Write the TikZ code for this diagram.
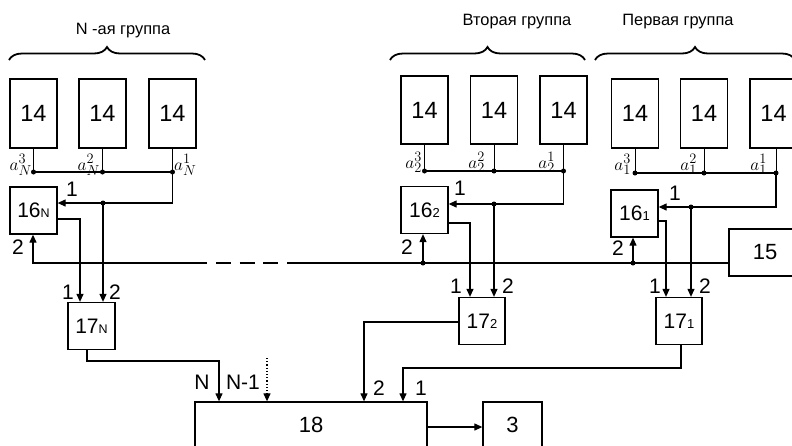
\documentclass[tikz,border=0pt]{standalone}
\usepackage{fontspec}
\setmainfont{Liberation Sans}
\usetikzlibrary{arrows.meta,decorations.pathreplacing}
\begin{document}
\begin{tikzpicture}[x=1pt,y=-1pt,
 box/.style={draw,line width=1.3pt,inner sep=0pt,minimum width=47pt,minimum height=47pt,font=\fontsize{21}{21}\selectfont},
 bigbox/.style={box,minimum height=69pt,font=\fontsize{23.5}{23.5}\selectfont},
 ln/.style={line width=1.2pt},
 thinln/.style={line width=1pt},
 arr/.style={ln,-{Triangle[length=8pt,width=7pt]}},
 dotn/.style={circle,fill,inner sep=0pt,minimum size=5pt},
 lbl/.style={font=\fontsize{21}{21}\selectfont,inner sep=0pt},
 alab/.style={inner sep=0pt,font=\fontsize{19}{19}\selectfont},
 ttl/.style={font=\fontsize{16.4}{16.4}\selectfont,inner sep=0pt},
 brc/.style={decorate,decoration={brace,amplitude=13pt},line width=1.8pt},
 subs/.style={}
]
\useasboundingbox (0,0) rectangle (792,445);
\clip (0,0) rectangle (792,445);

% titles and braces
\node[ttl] (tN) at (123,31) {N -ая группа};
\node[ttl] (t2) at (517,22) {Вторая группа};
\node[ttl] (t1) at (678,22) {Первая группа};
\draw[brc] (9,60) -- (205,60);
\draw[brc] (390,60) -- (585,60);
\draw[brc] (595,60) -- (795,60);

% boxes 14
\node[bigbox] (nN3) at (33.5,113.5) {14};
\node[bigbox] (nN2) at (102.5,113.5) {14};
\node[bigbox] (nN1) at (172.5,113.5) {14};
\node[bigbox,minimum height=68pt] (n23) at (424.5,110) {14};
\node[bigbox,minimum height=68pt] (n22) at (494,110) {14};
\node[bigbox,minimum height=68pt] (n21) at (563.5,110) {14};
\node[bigbox] (n13) at (635,113.5) {14};
\node[bigbox] (n12) at (704,113.5) {14};
\node[bigbox] (n11) at (773.5,113.5) {14};

% boxes 16, 17, 15, 18, 3
\node[box] (s16N) at (33.5,210.5) {16{\fontsize{12.5}{12.5}\selectfont N}};
\node[box] (s162) at (424.5,210) {16{\fontsize{13}{13}\selectfont 2}};
\node[box] (s161) at (634.5,213.5) {16{\fontsize{13}{13}\selectfont 1}};
\node[box] (s17N) at (91.5,326) {17{\fontsize{12.5}{12.5}\selectfont N}};
\node[box,minimum width=46pt] (s172) at (482,321) {17{\fontsize{13}{13}\selectfont 2}};
\node[box,minimum width=46pt] (s171) at (679,321) {17{\fontsize{13}{13}\selectfont 1}};
\node[box,minimum width=72pt,font=\fontsize{22}{22}\selectfont] (b15) at (765,252.5) {15};
\node[box,minimum width=232pt,minimum height=46pt,font=\fontsize{22}{22}\selectfont] (b18) at (311,425) {18};
\node[box,minimum width=59pt,minimum height=46pt,font=\fontsize{22}{22}\selectfont] (b3) at (512.5,425) {3};

% group N
\coordinate (busN) at (0,172);
\draw[thinln] (nN3.south) -- (nN3.south |- busN) coordinate (pN3);
\draw[thinln] (nN2.south) -- (nN2.south |- busN) coordinate (pN2);
\draw[thinln] (nN1.south) -- (nN1.south |- busN) coordinate (pN1);
\draw[ln] (pN3) -- (pN1);
\node[dotn] (dN3) at (pN3) {};
\node[dotn] (dN2) at (pN2) {};
\node[dotn] (dN1) at (pN1) {};
\coordinate (inN) at (0,203);
\draw[arr] (pN1) -- (pN1 |- inN) -- (s16N.east |- inN);
\coordinate (jN) at (103,203);
\node[dotn] (djN) at (jN) {};
\draw[arr] (jN) -- (jN |- s17N.north);
\coordinate (oN) at (80,219);
\draw[arr] (s16N.east |- oN) -- (oN) -- (oN |- s17N.north);
\coordinate (qN1) at (87,361);
\coordinate (qN2) at (219,361);
\draw[arr] (s17N.south -| qN1) -- (qN1) -- (qN2) -- (qN2 |- b18.north);

% group 2
\coordinate (bus2) at (0,171);
\draw[thinln] (n23.south) -- (n23.south |- bus2) coordinate (p23);
\draw[thinln] (n22.south) -- (n22.south |- bus2) coordinate (p22);
\draw[thinln] (n21.south) -- (n21.south |- bus2) coordinate (p21);
\draw[ln] (p23) -- (p21);
\node[dotn] (d23) at (p23) {};
\node[dotn] (d22) at (p22) {};
\node[dotn] (d21) at (p21) {};
\coordinate (in2) at (0,204);
\draw[arr] (p21) -- (p21 |- in2) -- (s162.east |- in2);
\coordinate (j2) at (494,204);
\node[dotn] (dj2) at (j2) {};
\draw[arr] (j2) -- (j2 |- s172.north);
\coordinate (o2) at (470,223);
\draw[arr] (s162.east |- o2) -- (o2) -- (o2 |- s172.north);
\coordinate (q2) at (364,322);
\draw[arr] (s172.west |- q2) -- (q2) -- (q2 |- b18.north);

% group 1
\coordinate (bus1) at (0,173);
\draw[thinln] (n13.south) -- (n13.south |- bus1) coordinate (p13);
\draw[thinln] (n12.south) -- (n12.south |- bus1) coordinate (p12);
\draw[thinln] (776,148) -- (776,173) coordinate (p11);
\draw[ln] (p13) -- (p11);
\node[dotn] (d13) at (p13) {};
\node[dotn] (d12) at (p12) {};
\node[dotn] (d11) at (p11) {};
\coordinate (in1) at (0,207);
\draw[arr] (p11) -- (p11 |- in1) -- (s161.east |- in1);
\coordinate (j1) at (691,207);
\node[dotn] (dj1) at (j1) {};
\draw[arr] (j1) -- (j1 |- s171.north);
\coordinate (o1) at (666,221);
\draw[arr] (s161.east |- o1) -- (o1) -- (o1 |- s171.north);
\coordinate (q11) at (681,368);
\coordinate (q12) at (403,368);
\draw[arr] (s171.south -| q11) -- (q11) -- (q12) -- (q12 |- b18.north);

% common line from 15
\coordinate (L1) at (33,263);
\coordinate (L2) at (207,263);
\coordinate (D1) at (216,263);
\coordinate (D2) at (278,263);
\coordinate (L3) at (287,263);
\draw[arr] (L2) -- (L1) -- (L1 |- s16N.south);
\draw[ln,dash pattern=on 15pt off 8.5pt] (D1) -- (D2);
\draw[ln] (b15.west |- L1) -- (L3);
\coordinate (k2) at (423,263);
\coordinate (k1) at (633,263);
\node[dotn] (dk2) at (k2) {};
\node[dotn] (dk1) at (k1) {};
\draw[arr] (k2) -- (k2 |- s162.south);
\draw[arr] (k1) -- (k1 |- s161.south);

% inputs of 18
\coordinate (dt) at (267,358);
\draw[arr,dotted] (dt) -- (dt |- b18.north);
\draw[arr] (b18.east |- 0,427) -- (b3.west |- 0,427);

% a labels
\node[alab,anchor=base east] (aN3) at (32,170) {$a_N^3$};
\node[alab,anchor=base east] (aN2) at (100,170) {$a_N^2$};
\node[alab,anchor=base west] (aN1) at (174,170) {$a_N^1$};
\node[alab,anchor=base east] (a23) at (422,168) {$a_2^3$};
\node[alab,anchor=base east] (a22) at (485,168) {$a_2^2$};
\node[alab,anchor=base east] (a21) at (555,168) {$a_2^1$};
\node[alab,anchor=base east] (a13) at (631,170) {$a_1^3$};
\node[alab,anchor=base east] (a12) at (697,170) {$a_1^2$};
\node[alab,anchor=base east] (a11) at (767,170) {$a_1^1$};

% number labels
\node[lbl] (lN1) at (72,189) {1};
\node[lbl] (lN2) at (18,247) {2};
\node[lbl] (lN3) at (68,292) {1};
\node[lbl] (lN4) at (115,292) {2};
\node[lbl] (l21) at (460,188) {1};
\node[lbl] (l22) at (407,247) {2};
\node[lbl] (l23) at (456,286) {1};
\node[lbl] (l24) at (508,286) {2};
\node[lbl] (l11) at (675,193) {1};
\node[lbl] (l12) at (618,248) {2};
\node[lbl] (l13) at (655,286) {1};
\node[lbl] (l14) at (705,286) {2};
\node[lbl] (lN) at (202,382) {N};
\node[lbl] (lNm) at (243,382) {N-1};
\node[lbl] (lb2) at (379,388) {2};
\node[lbl] (lb1) at (421,388) {1};
\end{tikzpicture}
\end{document}
